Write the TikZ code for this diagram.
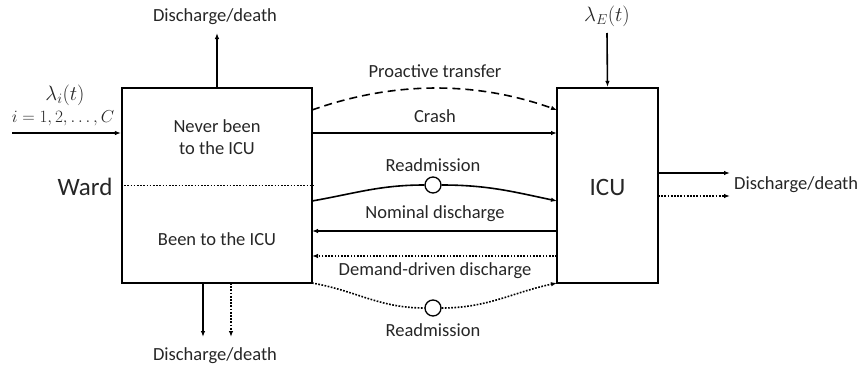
\documentclass[tikz,border=0pt]{standalone}
\usepackage{fontspec}
\setmainfont{Carlito}
\usetikzlibrary{arrows.meta,calc}
\begin{document}
\begin{tikzpicture}[x=1pt,y=-1pt,
  every node/.style={font=\fontsize{18.5}{22}\selectfont, text=black!85},
  box/.style={draw, line width=2.2pt, minimum width=190pt, minimum height=195pt, inner sep=0pt},
  flow/.style={line width=1.6pt, -{Latex[length=6pt,width=4.5pt]}},
  dotline/.style={dash pattern=on 1.7pt off 1.5pt},
  dashline/.style={dash pattern=on 8pt off 5pt},
  lbl/.style={inner sep=0pt},
  mathl/.style={inner sep=0pt, font=\fontsize{21}{24}\selectfont},
  bigl/.style={inner sep=0pt, font=\fontsize{25}{30}\selectfont},
  ring/.style={draw, circle, line width=1.3pt, minimum size=16pt, inner sep=0pt, fill=white}]
\useasboundingbox (0,0) rectangle (865,367);
% boxes
\node[box] (ward) at (217,185.5) {};
\node[box, minimum width=101pt] (icu) at (607.5,185.5) {};
\draw[line width=1.6pt, dotline] (ward.west) -- (ward.east);
\node[bigl] (wardl) at (85,187) {Ward};
\node[bigl] (icul) at (607.5,187) {ICU};
\node[lbl, align=center] (never) at (217,137) {Never been\\to the ICU};
\node[lbl] (been) at (217,239) {Been to the ICU};
% input to ward
\coordinate (inS) at (12,133);
\coordinate (inE) at (ward.west |- inS);
\draw[flow] (inS) -- (inE);
\node[mathl] (lami) at (65,95) {$\lambda_i(t)$};
\node[lbl] (idx) at (63,118) {$i=1,2,\ldots,C$};
% ward top discharge
\coordinate (wt) at (ward.north);
\coordinate (wtE) at (217,33);
\draw[flow] (wt) -- (wtE);
\node[lbl] (dtop) at (215,17) {Discharge/death};
% ward bottom discharges
\coordinate (wb1) at (203,283);
\coordinate (wb1E) at (203,337);
\coordinate (wb2) at (231,283);
\coordinate (wb2E) at (231,337);
\draw[flow] (wb1) -- (wb1E);
\draw[flow, dotline] (wb2) -- (wb2E);
\node[lbl] (dbot) at (215,356) {Discharge/death};
% ICU input
\coordinate (leS) at (607,33);
\draw[flow] (leS) -- (icu.north);
\node[mathl] (lame) at (607,16) {$\lambda_E(t)$};
% ICU outputs
\coordinate (io1) at (658,173);
\coordinate (io1E) at (730,173);
\coordinate (io2) at (658,196);
\coordinate (io2E) at (730,196);
\draw[flow] (io1) -- (io1E);
\draw[flow, dotline] (io2) -- (io2E);
\node[lbl, anchor=west] (dright) at (734,185) {Discharge/death};
% proactive transfer
\coordinate (pA) at (312,110);
\coordinate (pB) at (557,110);
\draw[flow, dashline] (pA) .. controls (394,81) and (476,81) .. (pB);
\node[lbl] (pt) at (435,71) {Proactive transfer};
% crash
\coordinate (cA) at (312,133);
\coordinate (cB) at (557,133);
\draw[flow] (cA) -- (cB);
\node[lbl] (cr) at (435,116) {Crash};
% readmission top
\coordinate (rA) at (312,201);
\coordinate (rB) at (557,201);
\node[ring] (r1) at (433,185) {};
\draw[line width=1.6pt] (rA) to[out=10,in=180] (r1.west);
\draw[flow] (r1.east) to[out=0,in=168] (rB);
\node[lbl] (rl1) at (433,165) {Readmission};
% nominal discharge
\coordinate (nA) at (557,231);
\coordinate (nB) at (312,231);
\draw[flow] (nA) -- (nB);
\node[lbl] (nd) at (435,214) {Nominal discharge};
% demand-driven discharge
\coordinate (dA) at (557,256);
\coordinate (dB) at (312,256);
\draw[flow, dotline] (dA) -- (dB);
\node[lbl] (dd) at (435,271) {Demand-driven discharge};
% readmission bottom
\coordinate (sA) at (312,283);
\coordinate (sB) at (557,283);
\node[ring] (r2) at (433,308) {};
\draw[line width=1.6pt, dotline] (sA) to[out=-10,in=180] (r2.west);
\draw[flow, dotline] (r2.east) to[out=0,in=-168] (sB);
\node[lbl] (rl2) at (433,330) {Readmission};
\end{tikzpicture}
\end{document}
